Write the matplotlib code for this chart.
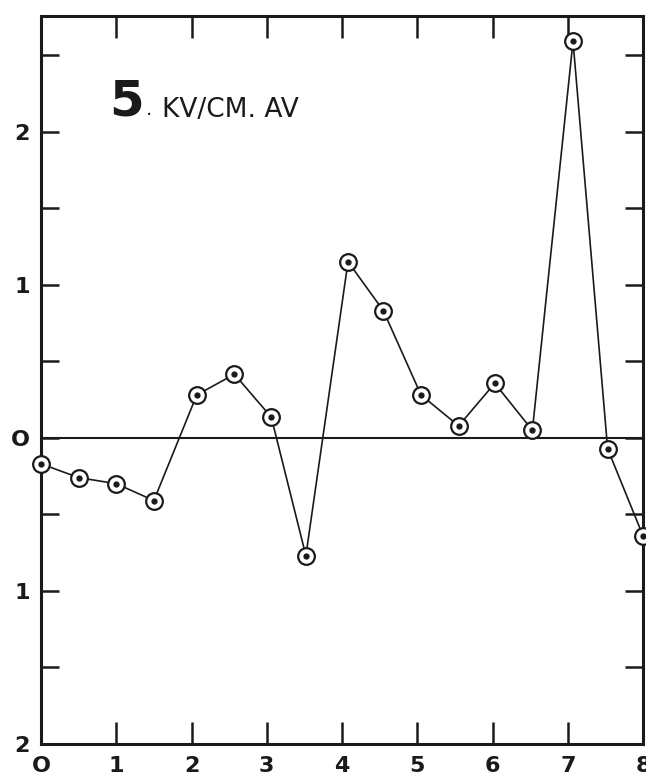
import matplotlib
matplotlib.use("Agg")
import matplotlib.pyplot as plt

# Field-strength profile at 5 kV/cm (averaged)
x_pos = [0.0, 0.5, 1.0, 1.5, 2.07, 2.57, 3.06, 3.52, 4.08, 4.55,
         5.05, 5.55, 6.03, 6.53, 7.07, 7.53, 8.0]
values = [-0.17, -0.26, -0.30, -0.41, 0.28, 0.415, 0.135, -0.77, 1.15, 0.83,
          0.28, 0.078, 0.356, 0.049, 2.59, -0.072, -0.64]

x_ticks = [0, 1, 2, 3, 4, 5, 6, 7, 8]
x_tick_labels = ["O", "1", "2", "3", "4", "5", "6", "7", "8"]
y_ticks = [-2, -1, 0, 1, 2]
y_tick_labels = ["2", "1", "O", "1", "2"]

W, H = 646, 776
fig = plt.figure(figsize=(W / 100, H / 100), dpi=100)
fig.patch.set_facecolor("white")

left, right, top, bottom = 41, 643, 16, 744
ax = fig.add_axes([left / W, 1 - bottom / H, (right - left) / W, (bottom - top) / H])
ax.set_xlim(0, 8)
ax.set_ylim(-2, 2.755)

for s in ax.spines.values():
    s.set_linewidth(2.2)
    s.set_color("#1a1a1a")

# zero reference line
ax.axhline(0, color="#1a1a1a", lw=1.5, zorder=2)

# data trace: open circles with a dot at the centre
ax.plot(x_pos, values, color="#1a1a1a", lw=1.2, zorder=3, clip_on=False)
ax.plot(x_pos, values, ls="none", marker="o", ms=12, mfc="white",
        mec="#1a1a1a", mew=1.6, zorder=4, clip_on=False)
ax.plot(x_pos, values, ls="none", marker="o", ms=3.5, mfc="#1a1a1a",
        mec="#1a1a1a", zorder=5, clip_on=False)

# ticks on all four sides, pointing inward
ax.set_xticks(x_ticks)
ax.set_xticklabels(x_tick_labels)
ax.set_yticks(y_ticks)
ax.set_yticklabels(y_tick_labels)
ax.set_yticks([-1.5, -0.5, 0.5, 1.5, 2.5], minor=True)

ax.tick_params(axis="x", which="major", direction="in", length=16, width=1.8,
               top=True, bottom=True, labelsize=16, pad=9, colors="#1a1a1a")
ax.tick_params(axis="y", which="both", direction="in", length=13, width=1.8,
               left=True, right=True, labelsize=16, pad=8, colors="#1a1a1a")
for lab in ax.get_xticklabels() + ax.get_yticklabels():
    lab.set_fontweight("bold")
    lab.set_fontfamily("DejaVu Sans")

fig.text(109 / W, 1 - 115 / H, "5", fontsize=36, fontweight="bold",
         color="#1a1a1a", ha="left", va="baseline")
fig.text(146 / W, 1 - 115 / H, ".", fontsize=14, color="#1a1a1a",
         ha="left", va="baseline")
fig.text(162 / W, 1 - 117 / H, "KV/CM. AV", fontsize=19,
         color="#1a1a1a", ha="left", va="baseline")

fig.savefig("out.png", dpi=100, facecolor="white")
